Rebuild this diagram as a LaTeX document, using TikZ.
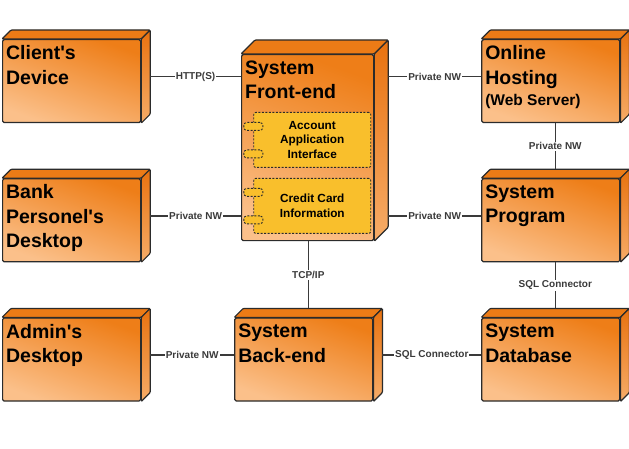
\documentclass[tikz,border=0pt]{standalone}
\usepackage{fontspec}
\setmainfont{Liberation Sans}
\usetikzlibrary{positioning,calc}

\definecolor{edgec}{HTML}{2B2B2B}
\definecolor{linec}{HTML}{3A3A3A}
\definecolor{frontt}{HTML}{EE7E18}
\definecolor{frontb}{HTML}{FBC08A}
\definecolor{topc}{HTML}{EC7B16}
\definecolor{sidet}{HTML}{E8720F}
\definecolor{sideb}{HTML}{F6AC68}
\definecolor{compc}{HTML}{F9BF2C}

\tikzset{
  nodebox/.style 2 args={draw=edgec, line width=1.2pt, rounded corners=1.5pt,
    top color=frontt, bottom color=frontb, shading angle=-20,
    inner xsep=3.5pt, inner ysep=6pt, font=\bfseries\fontsize{19.5}{24.5}\selectfont,
    execute at begin node={\begin{minipage}[t][#2][t]{#1}\raggedright},
    execute at end node={\end{minipage}}},
  device/.style={nodebox={131pt}{71pt}},
  comp/.style={draw=edgec, line width=0.9pt, dash pattern=on 2pt off 1.5pt, rounded corners=2pt,
    fill=compc, minimum width=117pt, minimum height=55pt, align=center,
    font=\bfseries\fontsize{11.8}{14.8}\selectfont},
  port/.style={draw=edgec, line width=0.9pt, dash pattern=on 2pt off 1.5pt, rounded corners=3pt,
    fill=compc, minimum width=19pt, minimum height=8pt, inner sep=0pt},
  face/.style={draw=edgec, line width=1.2pt, rounded corners=1pt},
  conn/.style={draw=linec, line width=1.6pt},
  tag/.style={fill=white, text=linec, inner sep=1pt, font=\bfseries\fontsize{10}{12}\selectfont},
}

\begin{document}
\begin{tikzpicture}[x=1pt, y=1pt]
  \useasboundingbox (0,0) rectangle (629,-449); %
  % nodes
  \node[device, anchor=north west] (client) at (2,-39) {Client\textquotesingle s\\Device}; %
  \node[device, below = 55pt of client] (bank) {Bank\\Personel\textquotesingle s\\Desktop}; %
  \node[device, below = 55pt of bank] (admin) {Admin\textquotesingle s\\Desktop}; %
  \node[device, right = 340pt of client] (host) {Online\\Hosting\\[-3pt]{\fontsize{15.5}{18}\selectfont (Web Server)}}; %
  \node[device, below = 55pt of host] (prog) {System\\Program}; %
  \node[device, below = 55pt of prog] (db) {System\\Database}; %
  \node[nodebox={125pt}{174pt}, anchor=north west] (front) at (241,-54) {System\\Front-end}; %
  \node[device, right = 93pt of admin] (back) {System\\Back-end}; %
  %
  % 3d faces
  \foreach \n/\d in {client/9, bank/9, admin/9, host/9, prog/9, db/9, back/9, front/14} {
    \path[face, fill=topc] (\n.north west) -- ++(\d,\d) -- ($(\n.north east)+(\d,\d)$) -- (\n.north east) -- cycle; %
    \path[face, top color=sidet, bottom color=sideb] (\n.north east) -- ++(\d,\d) -- ($(\n.south east)+(\d,\d)$) -- (\n.south east) -- cycle; %
    \coordinate (\n-r) at ($(\n.east)+(\d,\d/2)$); %
    \coordinate (\n-c) at ($(\n.center)+(\d/2,\d/2)$); %
    \coordinate (\n-t) at ($(\n.north)+(\d/2,\d)$); %
  }
  %
  % components
  \node[comp, anchor=north east] (acct) at ($(front.north east)+(-3,-58)$) {Account\\Application\\Interface}; %
  \node[comp, below = 10pt of acct] (card) {Credit Card\\Information}; %
  \node[port] (acct-p1) at ($(acct.west)+(0,13.5)$) {}; %
  \node[port] (acct-p2) at ($(acct.west)+(0,-14)$) {}; %
  \node[port] (card-p1) at ($(card.west)+(0,13.5)$) {}; %
  \node[port] (card-p2) at ($(card.west)+(0,-14)$) {}; %
  %
  % connectors
  \draw[conn] (client-r) -- node[tag] (t-http) {HTTP(S)} (client-r -| front.west); %
  \draw[conn] (bank-r) -- node[tag] (t-bank) {Private NW} (bank-r -| front.west); %
  \draw[conn] (front-r |- host-c) -- node[tag] (t-host) {Private NW} (host-c -| host.west); %
  \draw[conn] (front-r |- prog-c) -- node[tag] (t-prog) {Private NW} (prog-c -| prog.west); %
  \draw[conn] (host-c |- host.south) -- node[tag] (t-hp) {Private NW} (prog-t); %
  \draw[conn] (back-t |- front.south) -- node[tag] (t-tcp) {TCP/IP} (back-t); %
  \draw[conn] (prog-c |- prog.south) -- node[tag] (t-sql1) {SQL Connector} (db-t); %
  \draw[conn] (admin-r) -- node[tag] (t-admin) {Private NW} (admin-r -| back.west); %
  \draw[conn] (back-r) -- node[tag] (t-sql2) {SQL Connector} (back-r -| db.west); %
\end{tikzpicture}
\end{document}
